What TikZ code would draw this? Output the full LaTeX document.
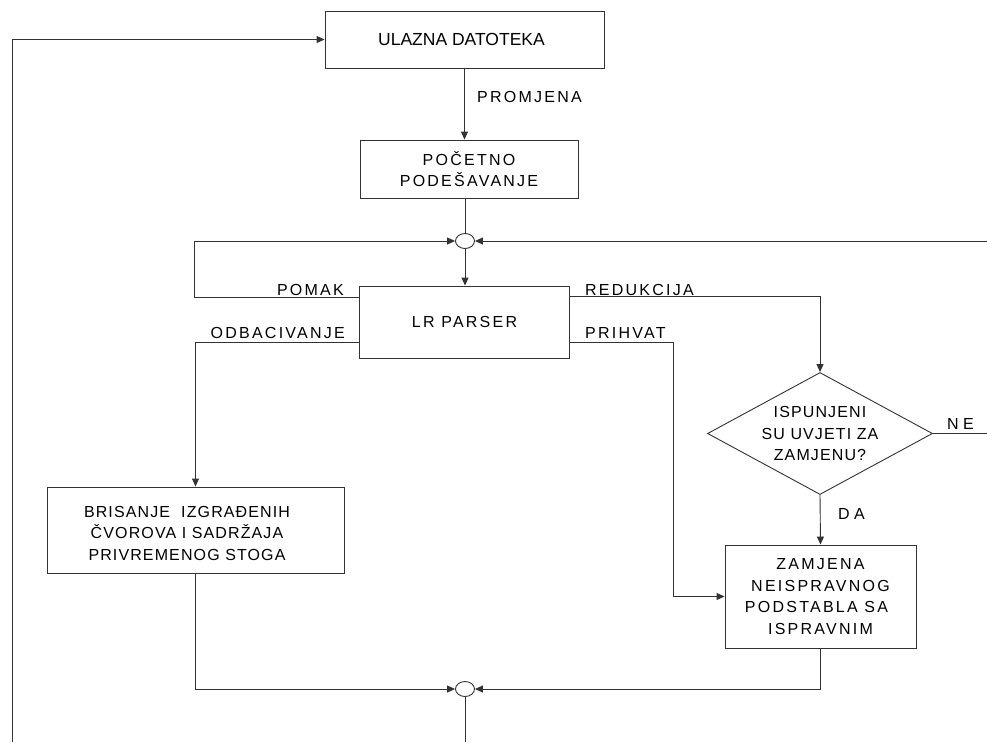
\documentclass[tikz,border=0pt]{standalone}
\usepackage{fontspec}
\setmainfont{Liberation Sans}
% tracked capitals
\newfontfamily\trackwide{Liberation Sans}[LetterSpace=14]
\newfontfamily\tracklow{Liberation Sans}[LetterSpace=7]
\usetikzlibrary{arrows.meta,shapes.geometric}

\begin{document}
\begin{tikzpicture}[x=1pt,y=-1pt,
  line/.style={draw=black!80, line width=0.9pt},
  arr/.style={line, -{Triangle[length=8pt,width=7pt]}},
  box/.style={line, rectangle, inner sep=0pt, align=center,
              font=\fontsize{16}{21.5}\selectfont\trackwide},
  junction/.style={line, ellipse, inner sep=0pt, minimum width=19pt, minimum height=15pt},
  decision/.style={line, diamond, inner sep=0pt, minimum width=225pt, minimum height=122pt},
  lbl/.style={inner sep=0pt, font=\fontsize{16}{18}\selectfont\trackwide},
  btext/.style={inner sep=0pt, align=center, font=\fontsize{16}{21.5}\selectfont\tracklow}
]
\useasboundingbox (0,0) rectangle (987,742);

% blocks
\node[box, minimum width=279pt, minimum height=57pt,
      font=\fontsize{17.5}{21}\selectfont] (ulaz) at (464.5,39.5)
  {\kern-6pt ULAZNA DATOTEKA};
\node[box, minimum width=218pt, minimum height=58pt] (pocetno) at (469,169)
  {POČETNO\\PODEŠAVANJE};
\node[junction] (j1) at (465,241) {};
\node[box, minimum width=210pt, minimum height=72pt] (parser) at (464.5,322)
  {LR PARSER};
\node[decision] (uvjet) at (820,433.5) {};
\node[btext] (uvjettxt) at (uvjet) {ISPUNJENI\\SU UVJETI ZA\\ZAMJENU?};
\node[box, minimum width=297pt, minimum height=86pt] (brisanje) at (195.5,530) {};
\node[btext] (brisanjetxt) at (187,533)
  {BRISANJE\ \ IZGRAĐENIH\\ČVOROVA I SADRŽAJA\\PRIVREMENOG STOGA};
\node[box, minimum width=191pt, minimum height=103pt] (zamjena) at (820.5,596.5)
  {ZAMJENA\\NEISPRAVNOG\\PODSTABLA SA\kern8pt\\ISPRAVNIM};
\node[junction] (j2) at (465,689) {};

% free ends at the picture border
\coordinate (loopin) at (12,742);
\coordinate (retin) at (987,241);
\coordinate (neout) at (987,433.5);
\coordinate (izlaz) at (465,742);

% connectors
\draw[arr] (loopin) |- (ulaz.west);
\draw[arr] (ulaz.south) -- (ulaz.south |- pocetno.north);
\draw[line] (pocetno.south -| j1) -- (j1.north);
\draw[arr] (j1.south) -- (parser.north -| j1);
\draw[arr] ([yshift=-12pt]parser.north west) -- ++(-165,0) |- (j1.west);
\draw[arr] (retin) -- (j1.east);
\draw[arr] ([yshift=-11pt]parser.north east) -| (uvjet.north);
\draw[arr] ([yshift=-57pt]parser.north west) -| (brisanje.north);
\draw[arr] ([yshift=-57pt]parser.north east) -- ++(103,0) |- (zamjena.west);
\draw[line] (uvjet.east) -- (neout);
\draw[arr] (uvjet.south) -- (zamjena.north);
\draw[arr] (zamjena.south) |- (j2.east);
\draw[arr] (brisanje.south) |- (j2.west);
\draw[line] (j2.south) -- (izlaz);

% connector labels
\node[lbl, anchor=base west] (lpromjena) at (477,102.5) {PROMJENA};
\node[lbl, anchor=base east] (lpomak) at (344,295.5) {POMAK};
\node[lbl, anchor=base west] (lredukcija) at (585,295.5) {REDUKCIJA};
\node[lbl, anchor=base east] (lodbac) at (345,338.5) {ODBACIVANJE};
\node[lbl, anchor=base west] (lprihvat) at (585,338.5) {PRIHVAT};
\node[lbl, anchor=base west, font=\fontsize{16}{18}\selectfont] (lne) at (947,429) {N E};
\node[lbl, anchor=base west, font=\fontsize{16}{18}\selectfont] (lda) at (838,519) {D A};
\end{tikzpicture}
\end{document}
